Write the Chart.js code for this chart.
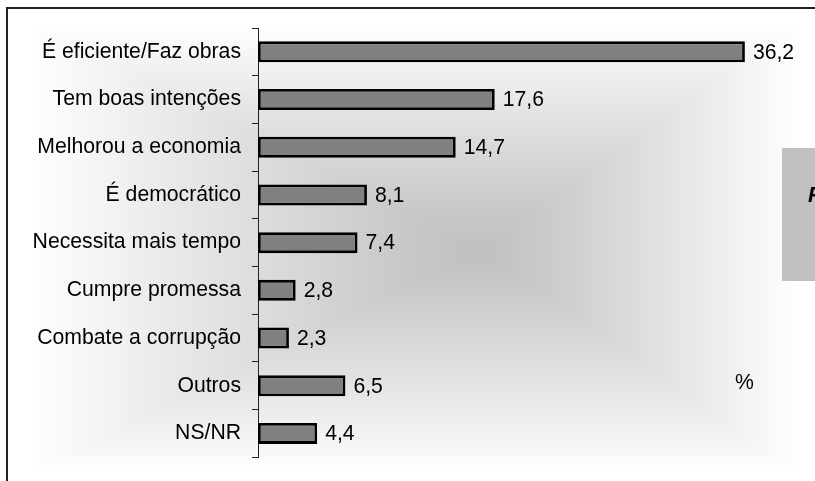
<!DOCTYPE html>
<html>
<head>
<meta charset="utf-8">
<script src="https://cdn.jsdelivr.net/npm/chart.js@4/dist/chart.umd.min.js"></script>
<style>
  html, body { margin: 0; padding: 0; background: #ffffff; }
  #wrap { width: 815px; height: 481px; position: relative; overflow: hidden; }
  canvas { display: block; }
</style>
</head>
<body>
<div id="wrap"><canvas id="c" width="815" height="481"></canvas></div>
<script>
// Reasons given, in % of respondents
const categories = [
  'É eficiente/Faz obras',
  'Tem boas intenções',
  'Melhorou a economia',
  'É democrático',
  'Necessita mais tempo',
  'Cumpre promessa',
  'Combate a corrupção',
  'Outros',
  'NS/NR'
];
const values = [36.2, 17.6, 14.7, 8.1, 7.4, 2.8, 2.3, 6.5, 4.4];
const unitLabel = '%';
const sourceLabel = 'Fonte';

const FONT = '"Liberation Sans", Arial, sans-serif';
const FONT_SIZE = 21.2;

// Grey "from centre" fill behind the chart, plus the outer frame
const backdrop = {
  id: 'backdrop',
  beforeDraw(chart) {
    const ctx = chart.ctx;
    const W = chart.width, H = chart.height;
    const x0 = 28, x1 = 798, y0 = 22, y1 = 474;
    const cx = 480, cy = 250;
    const img = ctx.createImageData(W, H);
    const d = img.data;
    for (let y = 0; y < H; y++) {
      for (let x = 0; x < W; x++) {
        let t = 1;
        if (x >= x0 && x <= x1 && y >= y0 && y <= y1) {
          const tx = x < cx ? (cx - x) / (cx - x0) : (x - cx) / (x1 - cx);
          const ty = y < cy ? (cy - y) / (cy - y0) : (y - cy) / (y1 - cy);
          t = Math.max(tx, ty);
        }
        const v = Math.round(192 + (255 - 192) * Math.pow(t, 1.12));
        const i = (y * W + x) * 4;
        d[i] = d[i + 1] = d[i + 2] = v;
        d[i + 3] = 255;
      }
    }
    ctx.putImageData(img, 0, 0);
    ctx.save();
    ctx.strokeStyle = '#222';
    ctx.lineWidth = 2;
    ctx.strokeRect(7, 8, W + 20, H + 20);
    ctx.restore();
  }
};

// Value labels, unit mark and the clipped legend box
const annotations = {
  id: 'annotations',
  afterDatasetsDraw(chart) {
    const ctx = chart.ctx;
    const meta = chart.getDatasetMeta(0);
    ctx.save();
    ctx.font = FONT_SIZE + 'px ' + FONT;
    ctx.fillStyle = '#000';
    ctx.textBaseline = 'middle';
    ctx.textAlign = 'left';
    meta.data.forEach((bar, i) => {
      const txt = values[i].toFixed(1).replace('.', ',');
      ctx.fillText(txt, bar.x + 8, bar.y + 1);
    });
    ctx.fillText(unitLabel, 735, 383);

    ctx.fillStyle = '#c0c0c0';
    ctx.fillRect(782, 148, 60, 133);
    ctx.fillStyle = '#000';
    ctx.font = 'italic bold ' + FONT_SIZE + 'px ' + FONT;
    ctx.textBaseline = 'alphabetic';
    ctx.fillText(sourceLabel, 808, 202);
    ctx.restore();
  }
};

new Chart(document.getElementById('c'), {
  type: 'bar',
  data: {
    labels: categories,
    datasets: [{
      data: values,
      backgroundColor: '#808080',
      borderColor: '#000000',
      borderWidth: 2.8,
      borderSkipped: false,
      categoryPercentage: 1,
      barPercentage: 0.44
    }]
  },
  options: {
    indexAxis: 'y',
    responsive: false,
    devicePixelRatio: 1,
    animation: false,
    layout: { padding: { left: 0, right: 19, top: 28, bottom: 16 } },
    plugins: {
      legend: { display: false },
      tooltip: { enabled: false }
    },
    scales: {
      x: {
        display: false,
        min: 0,
        max: 40
      },
      y: {
        afterFit(scale) { scale.width = 258; },
        border: { display: true, color: '#222', width: 1 },
        grid: {
          display: true,
          drawOnChartArea: false,
          drawTicks: true,
          tickLength: 6,
          color: '#222',
          offset: true
        },
        ticks: {
          color: '#000',
          padding: 11,
          font: { family: FONT, size: FONT_SIZE }
        }
      }
    }
  },
  plugins: [backdrop, annotations]
});
</script>
</body>
</html>
